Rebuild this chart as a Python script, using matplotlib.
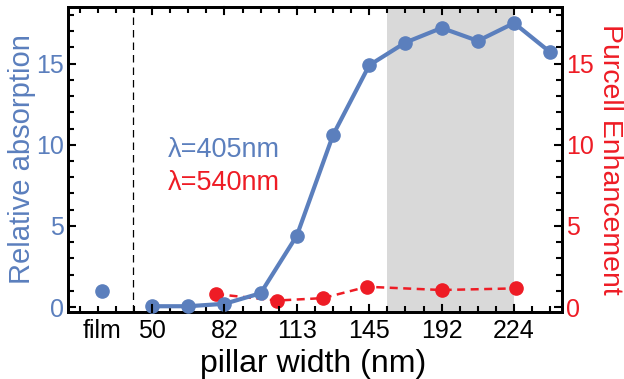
import matplotlib
matplotlib.use("Agg")
import matplotlib.pyplot as plt
from matplotlib.ticker import MultipleLocator

plt.rcParams["font.family"] = ["Liberation Sans", "DejaVu Sans"]

BLUE = "#5b7fbd"
RED = "#ee1c25"

# x positions are slots on a categorical-like axis (ticks every 2 slots)
film_pos = -1.37
film_abs = 1.0

abs_pos = [0, 1, 2, 3, 4, 5, 6, 7, 8, 9, 10, 11]
abs_vals = [0.05, 0.05, 0.2, 0.85, 4.4, 10.6, 14.9, 16.3, 17.2, 16.4, 17.5, 15.7]

purcell_pos = [1.77, 3.45, 4.72, 5.94, 8.0, 10.05]
purcell_vals = [0.8, 0.4, 0.55, 1.25, 1.05, 1.15]

tick_pos = [film_pos, 0, 2, 4, 6, 8, 10]
tick_labels = ["film", "50", "82", "113", "145", "192", "224"]

shade = (6.5, 10.0)
divider = -0.525

fig = plt.figure(figsize=(6.24, 3.79), dpi=100)
ax = fig.add_axes([0.109, 0.177, 0.792, 0.805])
ax2 = ax.twinx()

# shading lives on the back axes so both curves sit above it
ax2.axvspan(shade[0], shade[1], color="#d9d9d9", lw=0, zorder=0)
ax.axvline(divider, color="black", lw=0.9, ls=(0, (6, 4)), zorder=1)

ax.plot(abs_pos, abs_vals, "-o", color=BLUE, lw=3, ms=9.5, zorder=3, clip_on=False)
ax.plot([film_pos], [film_abs], "o", color=BLUE, ms=9.5, zorder=3)
ax2.plot(purcell_pos, purcell_vals, "--o", color=RED, lw=1.8, ms=9.5,
         dashes=(3.2, 2.2), zorder=3)

ax.set_xlim(-2.32, 11.33)
ax.set_ylim(-0.3, 18.5)
ax2.set_ylim(-0.3, 18.5)

ax.set_xticks(tick_pos)
ax.set_xticklabels(tick_labels)
ax.xaxis.set_minor_locator(MultipleLocator(0.5))
ax.yaxis.set_major_locator(MultipleLocator(5))
ax.yaxis.set_minor_locator(MultipleLocator(1))
ax2.yaxis.set_major_locator(MultipleLocator(5))
ax2.yaxis.set_minor_locator(MultipleLocator(1))

ax.tick_params(axis="x", which="both", direction="in", top=True,
               labelsize=18, pad=5, width=1.5)
ax.tick_params(axis="x", which="major", length=0)
ax.tick_params(axis="x", which="minor", length=4)
ax.tick_params(axis="y", which="both", direction="in", labelsize=18,
               labelcolor=BLUE, width=1.5, pad=3)
ax.tick_params(axis="y", which="major", length=6)
ax.tick_params(axis="y", which="minor", length=4)
ax2.tick_params(axis="y", which="both", direction="in", labelsize=18,
                labelcolor=RED, width=1.5, pad=3)
ax2.tick_params(axis="y", which="major", length=6)
ax2.tick_params(axis="y", which="minor", length=4)

# major x ticks drawn as short marks (not at film)
for x in tick_pos[1:]:
    ax.plot([x, x], [0, 0.022], transform=ax.get_xaxis_transform(),
            color="black", lw=1.5, zorder=4, clip_on=False)
    ax.plot([x, x], [1, 0.978], transform=ax.get_xaxis_transform(),
            color="black", lw=1.5, zorder=4, clip_on=False)

for a in (ax, ax2):
    for s in a.spines.values():
        s.set_linewidth(2)
        s.set_color("black")

ax.set_xlabel("pillar width (nm)", fontsize=23, va="baseline")
ax.xaxis.set_label_coords(0.495, -0.198)
ax.set_ylabel("Relative absorption", fontsize=21, color=BLUE, labelpad=0)
ax2.set_ylabel("Purcell Enhancement", fontsize=20.5, color=RED,
               rotation=-90, labelpad=21)

ax.text(0.202, 0.531, "λ=405nm", transform=ax.transAxes, fontsize=19.5,
        color=BLUE, va="center", ha="left")
ax.text(0.202, 0.423, "λ=540nm", transform=ax.transAxes, fontsize=19.5,
        color=RED, va="center", ha="left")

ax.set_zorder(ax2.get_zorder() + 1)
ax.patch.set_visible(False)

fig.savefig("out.png", dpi=100)
